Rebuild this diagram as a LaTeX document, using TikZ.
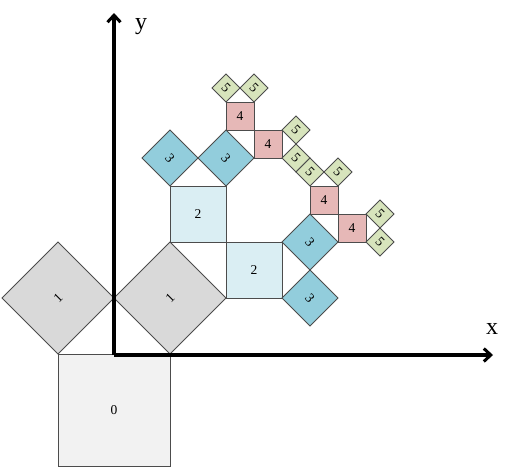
\documentclass[tikz,border=0pt]{standalone}
\usepackage{fontspec}
\setmainfont{Liberation Serif}
\usetikzlibrary{arrows.meta}
\tikzset{
  sq/.style={draw=black!70, line width=0.9pt},
  c0/.style={sq, fill={rgb,255:red,242;green,242;blue,242}},
  c1/.style={sq, fill={rgb,255:red,217;green,217;blue,217}},
  c2/.style={sq, fill={rgb,255:red,218;green,238;blue,243}},
  c3/.style={sq, fill={rgb,255:red,146;green,205;blue,220}},
  c4/.style={sq, fill={rgb,255:red,230;green,184;blue,183}},
  c5/.style={sq, fill={rgb,255:red,215;green,228;blue,188}},
  lab/.style={font=\fontsize{13.5}{13.5}\selectfont, inner sep=0pt},
  axis/.style={line width=3.2pt, -{Straight Barb[length=7pt,width=13pt,line width=3pt]}},
  axlab/.style={font=\fontsize{24}{24}\selectfont, inner sep=0pt}
}
\newcommand{\diam}[4]{% style, cx, cy, h
  \draw[#1] (#2-#4,#3) -- (#2,#3-#4) -- (#2+#4,#3) -- (#2,#3+#4) -- cycle;}
\begin{document}
\begin{tikzpicture}[x=1pt,y=-1pt]
\useasboundingbox (0,0) rectangle (518,469);
% level 0
\draw[c0] (58,354) rectangle (170,466);
\node[lab] (l0) at (114,410) {0};
% level 1
\diam{c1}{58}{298}{56}
\diam{c1}{170}{298}{56}
\node[lab, rotate=45] (l1a) at (58,298) {1};
\node[lab, rotate=45] (l1b) at (170,298) {1};
% level 2
\draw[c2] (170,186) rectangle (226,242);
\draw[c2] (226,242) rectangle (282,298);
\node[lab] (l2a) at (198,214) {2};
\node[lab] (l2b) at (254,270) {2};
% level 3
\diam{c3}{170}{158}{28}
\diam{c3}{226}{158}{28}
\diam{c3}{310}{242}{28}
\diam{c3}{310}{298}{28}
\node[lab, rotate=-50] (l3a) at (170,158) {3};
\node[lab, rotate=-50] (l3b) at (226,158) {3};
\node[lab, rotate=-50] (l3c) at (310,242) {3};
\node[lab, rotate=-50] (l3d) at (310,298) {3};
% level 4
\draw[c4] (226,102) rectangle (254,130);
\draw[c4] (254,130) rectangle (282,158);
\draw[c4] (310,186) rectangle (338,214);
\draw[c4] (338,214) rectangle (366,242);
\node[lab] (l4a) at (240,116) {4};
\node[lab] (l4b) at (268,144) {4};
\node[lab] (l4c) at (324,200) {4};
\node[lab] (l4d) at (352,228) {4};
% level 5
\diam{c5}{226}{88}{14}
\diam{c5}{254}{88}{14}
\diam{c5}{296}{130}{14}
\diam{c5}{296}{158}{14}
\diam{c5}{310}{172}{14}
\diam{c5}{338}{172}{14}
\diam{c5}{380}{214}{14}
\diam{c5}{380}{242}{14}
\foreach \n/\cx/\cy in {a/226/88,b/254/88,c/296/130,d/296/158,e/310/172,f/338/172,g/380/214,h/380/242}
  \node[lab, rotate=-45] (l5\n) at (\cx,\cy) {5};
% axes
\coordinate (O) at (114,355);
\coordinate (X) at (493,355);
\coordinate (Y) at (114,13);
\draw[axis] (O) -- (X);
\draw[axis] (O) -- (Y);
\node[axlab] (xl) at (492,329) {x};
\node[axlab] (yl) at (141,27) {y};
\end{tikzpicture}
\end{document}
